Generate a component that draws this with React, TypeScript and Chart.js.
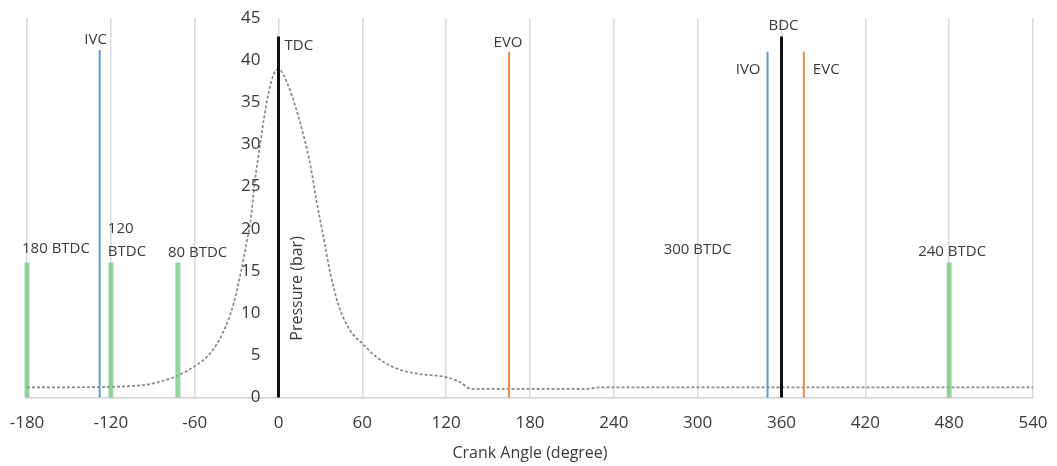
import React, { useEffect, useRef } from "react";
import { Chart, registerables } from "chart.js";

Chart.register(...registerables);

// Cylinder pressure trace
const crankAngles = [
  -180, -150, -120, -105, -95, -85, -72, -61, -49, -40, -32, -27, -23, -20, -17, -13, -8, -3, 0, 2, 10, 18, 23,
  27, 32, 37, 43, 51, 60, 70, 85, 100, 120, 130, 138, 160, 220, 230, 300, 400, 540,
];
const pressureBar = [
  1.2, 1.2, 1.25, 1.35, 1.5, 1.85, 2.6, 3.6, 5.2, 7.6, 11.2, 14.8, 18.2, 20.9, 25.5, 30.2, 35.4, 38.5, 38.9, 38.7,
  35.6, 31.0, 27.4, 23.5, 19.2, 14.8, 10.9, 8.0, 6.4, 4.8, 3.4, 2.8, 2.4, 1.8, 1.0, 1.0, 1.0, 1.2, 1.2, 1.2, 1.2,
];

// Event markers (vertical lines)
const markerAngles = [-180, -128, -120, -72, 0, 165, 350, 360, 376, 480];
const markerTops = [16, 41.2, 16, 16, 42.8, 41, 41, 42.8, 41, 16];
const markerLabels = ["180 BTDC", "IVC", "120\nBTDC", "80 BTDC", "TDC", "EVO", "IVO", "BDC", "EVC", "240 BTDC"];
const markerKinds = ["crank", "intake", "crank", "crank", "dead", "exhaust", "intake", "dead", "exhaust", "crank"];

// Free-standing label
const floatLabels = ["300 BTDC"];
const floatAngles = [300];
const floatValues = [17.5];

// Axis ticks
const xTickMin = -180;
const xTickMax = 540;
const xTickStep = 60;
const yTickMin = 0;
const yTickMax = 45;
const yTickStep = 5;

// ---- styles ----
const kindStyle: Record<string, { color: string; width: number }> = {
  crank: { color: "rgba(110,195,125,0.72)", width: 5 },
  intake: { color: "#5b9bd5", width: 2 },
  exhaust: { color: "#f08a45", width: 2 },
  dead: { color: "#111111", width: 3 },
};
const labelPlacement = [
  { align: "left", dx: -5, dy: -14 },
  { align: "center", dx: -4, dy: -10 },
  { align: "left", dx: -3, dy: -34 },
  { align: "left", dx: -10, dy: -10 },
  { align: "left", dx: 6, dy: 9 },
  { align: "center", dx: -1, dy: -9 },
  { align: "right", dx: -7, dy: 18 },
  { align: "center", dx: 2, dy: -11 },
  { align: "left", dx: 9, dy: 18 },
  { align: "center", dx: 3, dy: -11 },
];
const FONT = "'Open Sans', 'DejaVu Sans', sans-serif";
const TEXT = "#3a3a3a";

const labelPlugin = {
  id: "markerLabels",
  afterDatasetsDraw(chart: any) {
    const { ctx, scales, chartArea } = chart;
    const xs = scales.x;
    const ys = scales.y;
    const axisX = xs.getPixelForValue(0);
    ctx.save();
    ctx.fillStyle = TEXT;
    // y tick labels, to the left of the zero axis
    ctx.font = `17px ${FONT}`;
    ctx.textAlign = "right";
    ctx.textBaseline = "middle";
    ys.ticks.forEach((t: any) => {
      ctx.fillText(String(t.value), axisX - 18, ys.getPixelForValue(t.value));
    });
    ctx.font = `15px ${FONT}`;
    markerLabels.forEach((lab, i) => {
      const p = labelPlacement[i];
      const px = xs.getPixelForValue(markerAngles[i]) + p.dx;
      const py = ys.getPixelForValue(markerTops[i]) + p.dy;
      ctx.textAlign = p.align;
      lab.split("\n").forEach((line, j) => ctx.fillText(line, px, py + j * 23));
    });
    floatLabels.forEach((lab, i) => {
      ctx.textAlign = "center";
      ctx.fillText(lab, xs.getPixelForValue(floatAngles[i]), ys.getPixelForValue(floatValues[i]));
    });
    // y-axis title, placed right of the zero axis
    ctx.font = `16px ${FONT}`;
    ctx.translate(axisX + 19, chartArea.bottom - 109);
    ctx.rotate(-Math.PI / 2);
    ctx.textAlign = "center";
    ctx.fillText("Pressure (bar)", 0, 0);
    ctx.restore();
  },
};

export default function App() {
  const ref = useRef<HTMLCanvasElement>(null);
  useEffect(() => {
    document.body.style.margin = "0";
    const markerSets = markerAngles.map((a, i) => ({
      label: markerLabels[i],
      data: [
        { x: a, y: 0 },
        { x: a, y: markerTops[i] },
      ],
      borderColor: kindStyle[markerKinds[i]].color,
      borderWidth: kindStyle[markerKinds[i]].width,
      pointRadius: 0,
      showLine: true,
      clip: 6,
      order: 1,
    }));
    const chart = new Chart(ref.current as HTMLCanvasElement, {
      type: "scatter",
      data: {
        datasets: [
          {
            label: "Pressure",
            data: crankAngles.map((a, i) => ({ x: a, y: pressureBar[i] })),
            borderColor: "#888888",
            borderWidth: 1.7,
            borderDash: [3, 2],
            pointRadius: 0,
            showLine: true,
            cubicInterpolationMode: "monotone",
            order: 2,
          },
          ...markerSets,
        ],
      },
      options: {
        responsive: false,
        animation: false,
        layout: { padding: { left: 27, right: 24, top: 18, bottom: 0 } },
        plugins: { legend: { display: false }, tooltip: { enabled: false } },
        scales: {
          x: {
            type: "linear",
            min: xTickMin,
            max: xTickMax,
            ticks: { stepSize: xTickStep, padding: 3, color: TEXT, font: { family: FONT, size: 17 } },
            grid: {
              color: "#d9d9d9",
              lineWidth: 1.5,
              drawTicks: true,
              tickLength: 13,
              tickColor: "rgba(0,0,0,0)",
            },
            border: { color: "#d0d0d0", width: 1.5 },
            title: {
              display: true,
              text: "Crank Angle (degree)",
              color: TEXT,
              font: { family: FONT, size: 16 },
              padding: { top: 7, bottom: 3 },
            },
          },
          y: {
            type: "linear",
            display: false,
            min: yTickMin,
            max: yTickMax,
            ticks: { stepSize: yTickStep },
          },
        },
      },
      plugins: [labelPlugin],
    } as any);
    return () => chart.destroy();
  }, []);
  return (
    <div style={{ width: 1057, height: 466 }}>
      <canvas ref={ref} width={1057} height={466} />
    </div>
  );
}
